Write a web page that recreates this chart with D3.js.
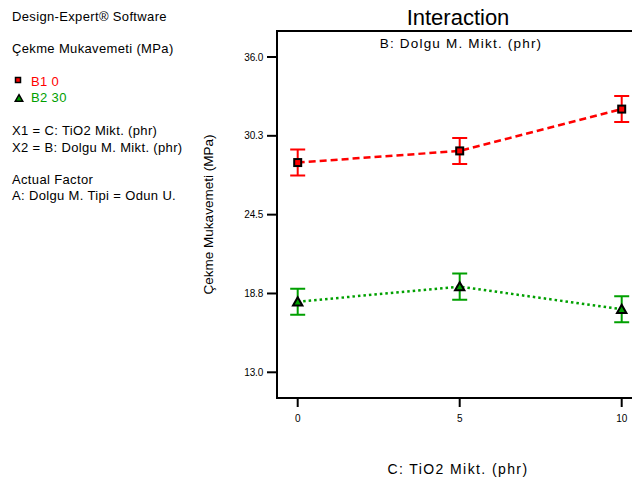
<!DOCTYPE html>
<html>
<head>
<meta charset="utf-8">
<script src="https://cdn.jsdelivr.net/npm/d3@7"></script>
<style>
  body { margin: 0; background: #fff; }
  text { font-family: "Liberation Sans", Arial, sans-serif; }
</style>
</head>
<body>
<svg width="632" height="481"></svg>
<script>
// data
const tio2 = [0, 5, 10];
const b1Values = [28.3, 29.15, 32.2];
const b2Values = [18.15, 19.25, 17.6];
const errHalf = [0.95, 0.95, 0.95];
const yTicks = [13.0, 18.75, 24.5, 30.25, 36.0];
const yTickLabels = ["13.0", "18.8", "24.5", "30.3", "36.0"];
const xTicks = [0, 5, 10];
const legendLabels = ["B1 0", "B2 30"];
const infoLines = [
  {t: "Design-Expert® Software", y: 21},
  {t: "Çekme Mukavemeti (MPa)", y: 53},
  {t: "X1 = C: TiO2 Mikt. (phr)", y: 135},
  {t: "X2 = B: Dolgu M. Mikt. (phr)", y: 151.5},
  {t: "Actual Factor", y: 184},
  {t: "A: Dolgu M. Tipi = Odun U.", y: 200}
];

const svg = d3.select("svg");
const plotLeft = 277, plotTop = 31, plotBottom = 398;

const x = d3.scaleLinear().domain([0, 10]).range([297.7, 621.7]);
const xLeft = x.invert(plotLeft);
const xRight = 10 + (10 - xLeft);
const y = d3.scaleLinear().domain([13.0, 36.0]).range([372.3, 57]);

// frame: left, top, bottom lines (right side runs off canvas)
svg.append("path")
  .attr("d", "M" + x(xRight) + "," + plotTop + "H" + plotLeft + "V" + plotBottom + "H" + x(xRight))
  .attr("fill", "none").attr("stroke", "#000").attr("stroke-width", 2);

// y axis ticks
const yAxis = svg.append("g").attr("transform", "translate(" + (plotLeft - 1) + ",0)");
yAxis.selectAll("line").data(yTicks).enter().append("line")
  .attr("x1", -9).attr("x2", 0)
  .attr("y1", d => y(d)).attr("y2", d => y(d))
  .attr("stroke", "#000").attr("stroke-width", 2);
yAxis.selectAll("text").data(yTicks).enter().append("text")
  .attr("x", -13).attr("y", d => y(d) + 3.5)
  .attr("text-anchor", "end").style("font-size", "10px")
  .style("letter-spacing", "-0.2px")
  .text((d, i) => yTickLabels[i]);

// x axis ticks
const xAxis = svg.append("g").attr("transform", "translate(0," + (plotBottom + 1) + ")");
xAxis.selectAll("line").data(xTicks).enter().append("line")
  .attr("x1", d => x(d)).attr("x2", d => x(d))
  .attr("y1", 0).attr("y2", 8)
  .attr("stroke", "#000").attr("stroke-width", 2);
xAxis.selectAll("text").data(xTicks).enter().append("text")
  .attr("x", d => x(d)).attr("y", 23)
  .attr("text-anchor", "middle").style("font-size", "10px")
  .text(d => d);

// titles
svg.append("text").attr("x", 458).attr("y", 24.5).attr("text-anchor", "middle")
  .style("font-size", "22px").text("Interaction");
svg.append("text").attr("x", 461).attr("y", 47.5).attr("text-anchor", "middle")
  .style("font-size", "13.5px").style("letter-spacing", "1.2px")
  .text("B: Dolgu M. Mikt. (phr)");
svg.append("text").attr("x", 458).attr("y", 473.5).attr("text-anchor", "middle")
  .style("font-size", "14px").style("letter-spacing", "1.4px")
  .text("C: TiO2 Mikt. (phr)");
svg.append("text")
  .attr("transform", "translate(213," + ((plotTop + plotBottom) / 2) + ") rotate(-90)")
  .attr("text-anchor", "middle").style("font-size", "13.5px")
  .text("Çekme Mukavemeti (MPa)");

// series
const series = [
  {vals: b1Values, color: "#ff0000", dash: "7,4", shape: "square"},
  {vals: b2Values, color: "#00a000", dash: "2.5,3", shape: "triangle"}
];

const line = d3.line().x((d, i) => x(tio2[i])).y(d => y(d));

series.forEach(s => {
  svg.append("path").datum(s.vals)
    .attr("d", line).attr("fill", "none")
    .attr("stroke", s.color).attr("stroke-width", 2.5)
    .attr("stroke-dasharray", s.dash);

  const g = svg.append("g");
  s.vals.forEach((v, i) => {
    const cx = x(tio2[i]);
    const hi = y(v + errHalf[i]), lo = y(v - errHalf[i]);
    g.append("path")
      .attr("d", "M" + (cx - 7.5) + "," + hi + "H" + (cx + 7.5) +
                 "M" + cx + "," + hi + "V" + lo +
                 "M" + (cx - 7.5) + "," + lo + "H" + (cx + 7.5))
      .attr("stroke", s.color).attr("stroke-width", 2).attr("fill", "none");
    if (s.shape === "square") {
      g.append("rect").attr("x", cx - 3.5).attr("y", y(v) - 3.5)
        .attr("width", 7).attr("height", 7)
        .attr("fill", s.color).attr("stroke", "#000").attr("stroke-width", 2);
    } else {
      g.append("path")
        .attr("d", d3.symbol(d3.symbolTriangle, 38)())
        .attr("transform", "translate(" + cx + "," + (y(v) + 1) + ")")
        .attr("fill", s.color).attr("stroke", "#000").attr("stroke-width", 2);
    }
  });
});

// left info block
svg.selectAll(".info").data(infoLines).enter().append("text")
  .attr("class", "info").attr("x", 12).attr("y", d => d.y)
  .style("font-size", "13px").style("letter-spacing", "0.35px")
  .text(d => d.t);

// legend
const leg = svg.append("g");
leg.append("rect").attr("x", 15.5).attr("y", 77.5).attr("width", 5).attr("height", 5)
  .attr("fill", "#ff0000").attr("stroke", "#000").attr("stroke-width", 1.5);
leg.append("path").attr("d", d3.symbol(d3.symbolTriangle, 24)())
  .attr("transform", "translate(19,99)")
  .attr("fill", "#00a000").attr("stroke", "#000").attr("stroke-width", 1.5);
leg.selectAll("text").data(legendLabels).enter().append("text")
  .attr("x", 31).attr("y", (d, i) => 85.5 + i * 16.3)
  .style("font-size", "13px").style("letter-spacing", "0.35px")
  .attr("fill", (d, i) => series[i].color)
  .text(d => d);
</script>
</body>
</html>
